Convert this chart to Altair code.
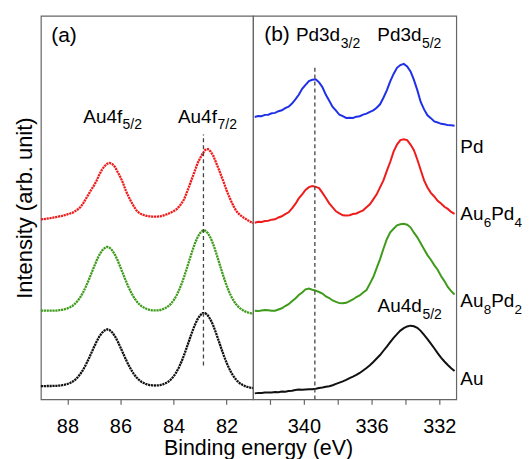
import altair as alt
import pandas as pd

FONT = "Liberation Sans"

# ---------------- Panel (a): Au 4f region, 89.0 -> 81.0 eV, 0.1 eV steps
energy_a = [round(89.0 - 0.1 * i, 1) for i in range(81)]

au_4f = [13.3, 13.3, 13.4, 13.4, 13.4, 13.5, 13.6, 13.9, 14.2, 14.7,
         15.4, 16.4, 17.8, 19.8, 22.5, 25.9, 30.1, 35.0, 40.5, 46.4,
         52.3, 57.9, 62.9, 66.7, 69.1, 70.3, 69.4, 66.9, 63.0, 58.0,
         52.2, 46.2, 40.3, 34.8, 29.9, 25.6, 22.2, 19.5, 17.5, 16.1,
         15.1, 14.4, 14.0, 13.9, 14.0, 14.3, 15.1, 16.2, 17.7, 19.9,
         22.9, 26.8, 31.8, 37.7, 44.5, 52.0, 59.8, 67.4, 74.3, 80.1,
         84.3, 86.5, 86.5, 84.1, 79.9, 74.0, 66.9, 59.2, 51.3, 43.8,
         36.9, 30.9, 25.8, 21.7, 18.6, 16.2, 14.6, 13.3, 12.4, 11.8,
         11.3]

au8pd2_4f = [89.0, 89.0, 89.0, 89.0, 89.0, 89.1, 89.2, 89.6, 89.9, 90.5,
             91.3, 92.5, 94.0, 96.3, 99.3, 103.1, 107.8, 113.4, 119.5, 126.2,
             132.8, 139.2, 144.8, 149.2, 151.8, 153.1, 152.0, 149.3, 144.8, 139.1,
             132.6, 125.9, 119.2, 113.0, 107.4, 102.6, 98.8, 95.7, 93.4, 91.9,
             90.7, 89.9, 89.4, 89.3, 89.3, 89.7, 90.5, 91.8, 93.4, 95.8,
             99.2, 103.5, 109.0, 115.5, 123.0, 131.2, 139.8, 148.2, 156.0, 162.3,
             166.9, 169.4, 169.3, 166.7, 162.0, 155.6, 147.7, 139.1, 130.4, 122.1,
             114.4, 107.8, 102.1, 97.7, 94.1, 91.6, 89.8, 88.3, 87.3, 86.6,
             86.1]

au6pd4_4f = [180.7, 181.0, 181.3, 181.7, 182.1, 182.6, 183.1, 183.7, 184.3, 185.0,
             185.8, 186.6, 187.5, 189.0, 190.8, 193.2, 197.0, 201.5, 206.0, 210.5,
             214.5, 219.5, 225.5, 230.5, 234.0, 236.5, 237.3, 236.0, 233.0, 228.0,
             223.0, 217.0, 209.8, 204.0, 198.5, 194.0, 189.8, 187.3, 185.8, 184.8,
             184.1, 183.7, 183.5, 183.4, 183.5, 183.8, 184.5, 185.3, 186.3, 187.5,
             188.8, 190.6, 193.2, 196.5, 200.8, 207.5, 214.5, 221.8, 229.0, 236.5,
             242.0, 246.8, 250.5, 251.2, 248.8, 244.5, 238.0, 231.5, 224.5, 217.5,
             210.0, 203.5, 197.5, 192.0, 188.0, 185.3, 183.2, 181.5, 179.8, 178.3,
             176.8]

# ---------------- Panel (b): Pd 3d region, 342.9 -> 331.1 eV, 0.2 eV steps
energy_b = [round(342.9 - 0.2 * i, 1) for i in range(60)]

pd_3d = [283.5, 284.4, 284.3, 285.6, 285.8, 287.2, 287.6, 289.3, 290.2, 292.4,
         293.8, 297.0, 301.2, 305.8, 311.8, 315.8, 319.6, 320.8, 321.4, 318.2,
         313.3, 305.7, 299.8, 293.6, 289.8, 285.7, 284.3, 282.5, 282.6, 282.5,
         283.8, 284.2, 285.9, 286.8, 288.7, 290.1, 292.8, 296.2, 302.8, 310.2,
         319.3, 326.7, 332.8, 335.6, 336.8, 334.3, 329.2, 320.7, 310.4, 298.6,
         291.1, 285.2, 282.3, 279.0, 278.0, 276.6, 276.2, 275.3, 275.1, 274.6]

au6pd4_3d = [177.3, 178.2, 178.1, 179.0, 179.4, 180.4, 180.8, 182.6, 183.8, 185.9,
             187.8, 191.8, 196.2, 201.7, 205.8, 210.3, 213.0, 214.2, 213.3, 212.0,
             207.3, 202.2, 196.8, 192.7, 188.8, 186.7, 184.8, 184.6, 184.8, 186.0,
             186.6, 188.3, 189.8, 192.8, 195.8, 200.8, 205.8, 212.8, 219.8, 229.3,
             238.3, 248.7, 255.8, 260.2, 261.2, 260.2, 255.8, 250.2, 240.8, 230.2,
             219.8, 212.7, 207.3, 203.7, 199.3, 196.7, 193.3, 191.2, 188.1, 186.2]

au8pd2_3d = [89.0, 88.6, 89.3, 89.8, 89.5, 88.9, 89.0, 90.2, 91.4, 93.7,
             95.5, 98.4, 101.3, 104.7, 107.3, 110.4, 111.3, 110.1, 109.2, 107.8,
             106.2, 103.3, 101.7, 99.3, 97.9, 96.6, 96.4, 96.9, 98.7, 100.3,
             102.7, 104.3, 107.2, 109.8, 116.2, 122.8, 131.7, 140.8, 151.2, 160.8,
             167.6, 171.3, 174.7, 175.8, 176.3, 175.3, 172.7, 167.3, 162.7, 156.8,
             150.7, 144.8, 140.2, 134.8, 130.2, 123.8, 118.7, 112.8, 108.7, 105.3]

au_3d = [6.0, 6.5, 6.3, 6.8, 7.0, 6.9, 7.3, 7.2, 7.8, 7.7,
         8.3, 8.6, 9.4, 9.9, 9.6, 10.0, 10.2, 10.1, 10.6, 11.3,
         11.9, 12.6, 13.2, 14.2, 15.5, 16.8, 18.0, 19.5, 21.3, 22.8,
         24.5, 26.5, 29.0, 31.5, 34.2, 37.5, 41.0, 44.5, 48.8, 53.0,
         57.5, 61.8, 65.5, 69.0, 71.5, 73.2, 74.0, 73.4, 71.8, 68.8,
         64.8, 60.5, 56.0, 51.3, 46.5, 42.0, 38.0, 34.5, 31.3, 28.5]

samples = ["Au", "Au8Pd2", "Au6Pd4", "Pd"]
colors = ["#111111", "#3f9b1b", "#ee1c1c", "#1f30e6"]

# reference lines (dashed)
dash_a_E, dash_a_lo, dash_a_hi = [82.87], [34], [266]
dash_b_E, dash_b_lo, dash_b_hi = [339.35], [0], [336]

# annotations (data coordinates)
tag_text = ["(a)", "(b)"]
tag_E = [88.61, 342.34]
tag_I = [359, 360]

a_main = ["Au4f", "Au4f"]
a_main_E = [87.40, 83.83]
a_main_I = [277.3, 277.3]
a_sub = ["5/2", "7/2"]
a_sub_E = [85.92, 82.34]
a_sub_I = [271.5, 271.5]

b_main = ["Pd3d", "Pd3d", "Au4d"]
b_main_E = [340.47, 335.66, 335.65]
b_main_I = [359.7, 359.7, 87.3]
b_sub = ["3/2", "5/2", "5/2"]
b_sub_E = [337.82, 333.03, 333.0]
b_sub_I = [353, 353, 81]

s_main = ["Pd", "Au", "Pd", "Au", "Pd", "Au"]
s_main_E = [330.76, 330.76, 328.94, 330.76, 328.94, 330.76]
s_main_I = [247.3, 179.7, 179.7, 92.3, 92.3, 14]
s_sub = ["6", "4", "8", "2"]
s_sub_E = [329.38, 327.56, 329.38, 327.56]
s_sub_I = [173, 173, 86, 86]

# ---------------- tables
df_a = pd.concat([
    pd.DataFrame({"E": energy_a, "I": au_4f, "sample": "Au"}),
    pd.DataFrame({"E": energy_a, "I": au8pd2_4f, "sample": "Au8Pd2"}),
    pd.DataFrame({"E": energy_a, "I": au6pd4_4f, "sample": "Au6Pd4"}),
])
df_b = pd.concat([
    pd.DataFrame({"E": energy_b, "I": au_3d, "sample": "Au"}),
    pd.DataFrame({"E": energy_b, "I": au8pd2_3d, "sample": "Au8Pd2"}),
    pd.DataFrame({"E": energy_b, "I": au6pd4_3d, "sample": "Au6Pd4"}),
    pd.DataFrame({"E": energy_b, "I": pd_3d, "sample": "Pd"}),
])

color = alt.Color("sample:N", scale=alt.Scale(domain=samples, range=colors), legend=None)

xa = alt.X("E:Q",
           scale=alt.Scale(domain=[81, 89], reverse=True, nice=False, zero=False),
           axis=alt.Axis(values=[88, 86, 84, 82], title="Binding energy (eV)",
                         titleX=218, titleY=55, titleAlign="center",
                         titleBaseline="alphabetic", titleFontSize=21.5))
ya = alt.Y("I:Q", scale=alt.Scale(domain=[0, 385], nice=False, zero=False),
           axis=alt.Axis(title="Intensity (arb. unit)", labels=False, ticks=False,
                         domain=False, grid=False, titlePadding=4, titleFontSize=22))

xb = alt.X("E:Q",
           scale=alt.Scale(domain=[331, 343], reverse=True, nice=False, zero=False),
           axis=alt.Axis(values=[342, 340, 338, 336, 334, 332], title=None,
                         labelExpr="datum.value % 4 == 0 ? datum.label : ''"))
yb = alt.Y("I:Q", scale=alt.Scale(domain=[0, 385], nice=False, zero=False), axis=None)


def text_layer(texts, es, ys, x, y, size):
    df = pd.DataFrame({"E": es, "I": ys, "t": texts})
    return alt.Chart(df).mark_text(align="left", baseline="alphabetic", font=FONT,
                                   fontSize=size, color="black").encode(x=x, y=y, text="t:N")


lines_a = alt.Chart(df_a).mark_line(strokeWidth=2.3, strokeDash=[2.2, 0.7]).encode(
    x=xa, y=ya, color=color, detail="sample:N")
rule_a = alt.Chart(pd.DataFrame({"E": dash_a_E, "I": dash_a_lo, "I2": dash_a_hi})).mark_rule(
    strokeDash=[4, 3], color="#444", strokeWidth=1.3).encode(x=xa, y=ya, y2="I2:Q")

left = alt.layer(
    lines_a, rule_a,
    text_layer(tag_text[:1], tag_E[:1], tag_I[:1], xa, ya, 21),
    text_layer(a_main, a_main_E, a_main_I, xa, ya, 19),
    text_layer(a_sub, a_sub_E, a_sub_I, xa, ya, 14),
).properties(width=213, height=385)

lines_b = alt.Chart(df_b).mark_line(strokeWidth=2).encode(
    x=xb, y=yb, color=color, detail="sample:N")
rule_b = alt.Chart(pd.DataFrame({"E": dash_b_E, "I": dash_b_lo, "I2": dash_b_hi})).mark_rule(
    strokeDash=[4, 3], color="#444", strokeWidth=1.3).encode(x=xb, y=yb, y2="I2:Q")

right = alt.layer(
    lines_b, rule_b,
    text_layer(tag_text[1:], tag_E[1:], tag_I[1:], xb, yb, 21),
    text_layer(b_main, b_main_E, b_main_I, xb, yb, 19),
    text_layer(b_sub, b_sub_E, b_sub_I, xb, yb, 14),
    text_layer(s_main, s_main_E, s_main_I, xb, yb, 19),
    text_layer(s_sub, s_sub_E, s_sub_I, xb, yb, 13.5),
).properties(width=204, height=385)

chart = alt.hconcat(left, right, spacing=0, bounds="flush").properties(
    padding={"left": 5, "top": 6, "right": 0, "bottom": 0}
).configure_view(
    stroke="#666", strokeWidth=1.2
).configure_axis(
    labelFont=FONT, labelFontSize=20, labelColor="black", labelPadding=12,
    tickColor="#666", tickSize=5, tickWidth=1.2, domain=False, grid=False,
    titleFont=FONT, titleFontWeight="normal", titleColor="black"
)

chart.save("out.html", embed_options={"renderer": "svg", "actions": False})
